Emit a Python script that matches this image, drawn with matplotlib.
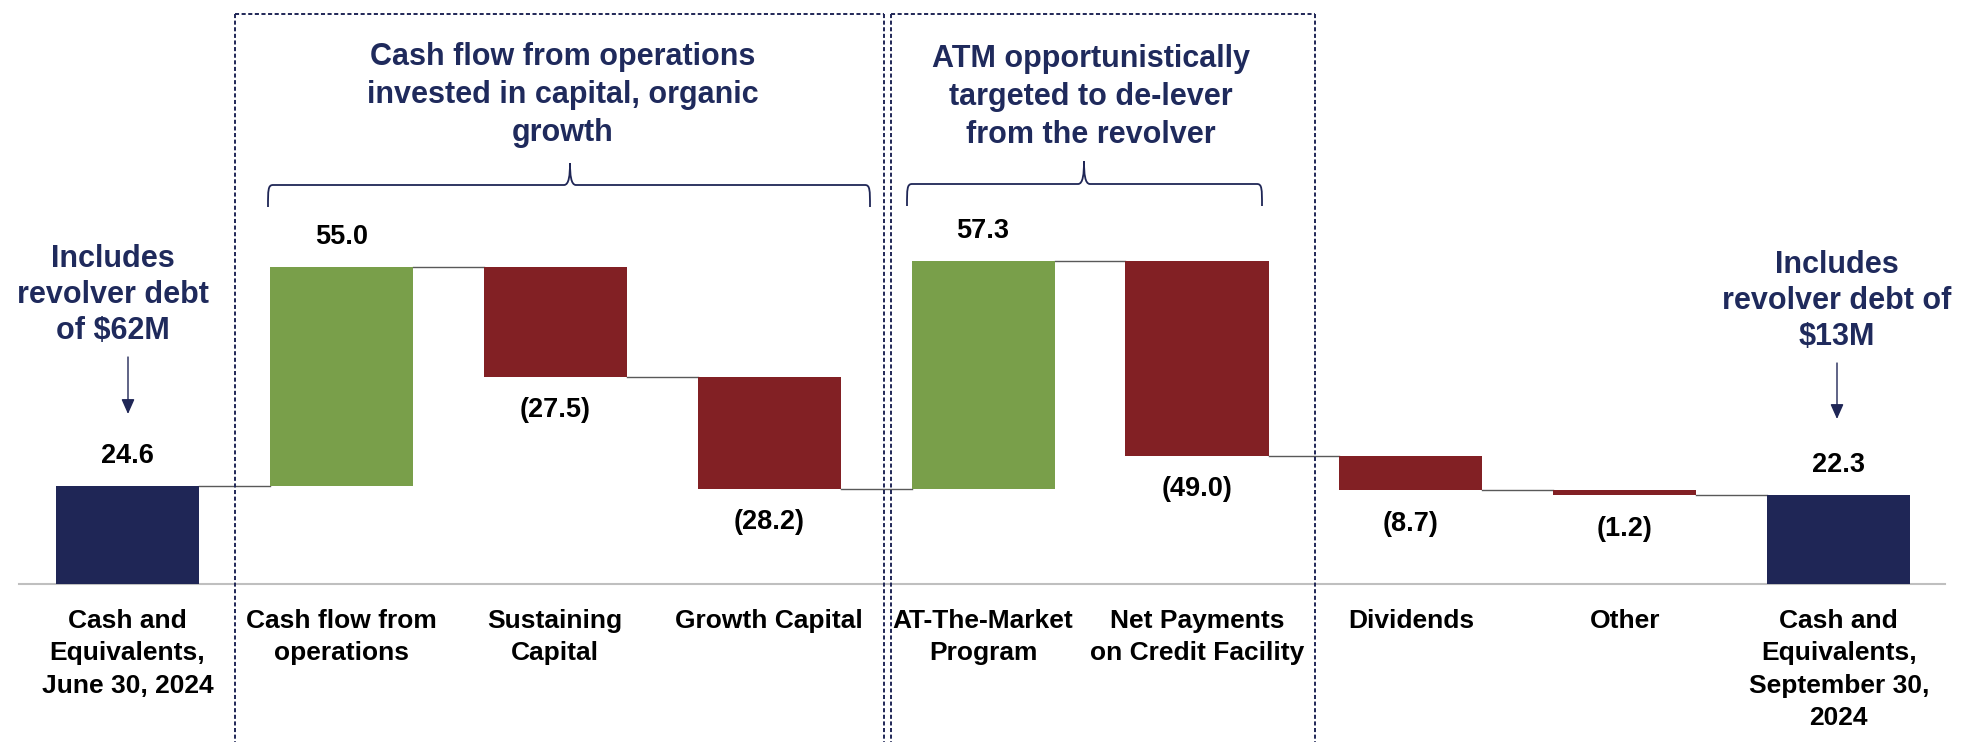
import matplotlib
matplotlib.use("Agg")
import matplotlib.pyplot as plt
from matplotlib.path import Path
from matplotlib.patches import PathPatch, FancyArrowPatch

# ---------------- data ----------------
categories = ["Cash and\nEquivalents,\nJune 30, 2024", "Cash flow from\noperations",
              "Sustaining\nCapital", "Growth Capital", "AT-The-Market\nProgram",
              "Net Payments\non Credit Facility", "Dividends", "Other",
              "Cash and\nEquivalents,\nSeptember 30,\n2024"]
values = [24.6, 55.0, -27.5, -28.2, 57.3, -49.0, -8.7, -1.2, 22.3]
kinds = ["total", "delta", "delta", "delta", "delta", "delta", "delta", "delta", "total"]
value_labels = ["24.6", "55.0", "(27.5)", "(28.2)", "57.3", "(49.0)", "(8.7)", "(1.2)", "22.3"]
group_titles = ["Cash flow from operations\ninvested in capital, organic\ngrowth",
                "ATM opportunistically\ntargeted to de-lever\nfrom the revolver"]
note_left = "Includes\nrevolver debt\nof $62M"
note_right = "Includes\nrevolver debt of\n$13M"

# ---------------- style ----------------
NAVY = "#1F2656"
TEXT_NAVY = "#1F2A5C"
GREEN = "#799F4A"
RED = "#822024"
FONT = ["Liberation Sans", "DejaVu Sans"]
plt.rcParams["font.family"] = FONT

W, H = 1969, 742
fig = plt.figure(figsize=(W / 100, H / 100), dpi=100)

# main axes: bottom at baseline pixel 584
ax = fig.add_axes([19 / W, (H - 584) / H, (1945 - 19) / W, 584 / H])
ax.set_xlim(-0.507, 8.497)
ax.set_ylim(0, 146.7)

bottoms, heights, colors = [], [], []
level = 0.0
for v, k in zip(values, kinds):
    if k == "total":
        bottoms.append(0.0)
        heights.append(v)
        colors.append(NAVY)
        level = v
    else:
        if v >= 0:
            bottoms.append(level)
            heights.append(v)
            colors.append(GREEN)
        else:
            bottoms.append(level + v)
            heights.append(-v)
            colors.append(RED)
        level += v

x = list(range(len(values)))
bw = 0.669
ax.bar(x, heights, bottom=bottoms, width=bw, color=colors, zorder=3)

# connectors
level = 0.0
for i, (v, k) in enumerate(zip(values, kinds)):
    level = v if k == "total" else level + v
    if i < len(values) - 1:
        ax.plot([i + bw / 2, i + 1 - bw / 2], [level, level], color="#595959", lw=1.0, zorder=2)

# value labels
for i, (v, k) in enumerate(zip(values, kinds)):
    if v >= 0:
        ax.annotate(value_labels[i], (i, bottoms[i] + heights[i]), xytext=(0, 21.6),
                    textcoords="offset points", ha="center", va="center",
                    fontsize=19.5, fontweight="bold", color="black")
    else:
        ax.annotate(value_labels[i], (i, bottoms[i]), xytext=(0, -24.1),
                    textcoords="offset points", ha="center", va="center",
                    fontsize=19.5, fontweight="bold", color="black")

ax.set_xticks(x)
ax.set_xticklabels(categories, fontsize=19, fontweight="bold", color="black", linespacing=1.44)
ax.tick_params(axis="x", length=0, pad=18)
ax.set_yticks([])
for s in ["top", "left", "right"]:
    ax.spines[s].set_visible(False)
ax.spines["bottom"].set_color("#BFBFBF")
ax.spines["bottom"].set_linewidth(1.5)

# overlay in pixel coordinates for annotations
ov = fig.add_axes([0, 0, 1, 1], facecolor="none")
ov.set_xlim(0, W)
ov.set_ylim(H, 0)
ov.axis("off")

dash = (0, (2.1, 1.3))
for (l, r) in [(235, 884), (891, 1315)]:
    ov.plot([l, r], [14, 14], color=NAVY, lw=1.4, linestyle=dash)
    ov.plot([l, l], [14, H + 5], color=NAVY, lw=1.4, linestyle=dash)
    ov.plot([r, r], [14, H + 5], color=NAVY, lw=1.4, linestyle=dash)


def brace(x0, x1, xc, yh, ye, yt):
    verts = [(x0, ye), (x0, yh + 5), (x0, yh), (x0 + 5, yh),
             (xc - 6, yh),
             (xc - 1, yh), (xc, yh - 10), (xc, yt),
             (xc, yh - 10), (xc + 1, yh), (xc + 6, yh),
             (x1 - 5, yh),
             (x1, yh), (x1, yh + 5), (x1, ye)]
    codes = [Path.MOVETO, Path.CURVE4, Path.CURVE4, Path.CURVE4,
             Path.LINETO,
             Path.CURVE4, Path.CURVE4, Path.CURVE4,
             Path.CURVE4, Path.CURVE4, Path.CURVE4,
             Path.LINETO,
             Path.CURVE4, Path.CURVE4, Path.CURVE4]
    ov.add_patch(PathPatch(Path(verts, codes), fill=False, edgecolor=NAVY, lw=1.3))


brace(268, 870, 570, 185, 207, 163)
brace(907, 1262, 1084, 184, 206, 161)

ov.text(563, 95, group_titles[0], ha="center", va="center", fontsize=22,
        fontweight="bold", color=TEXT_NAVY, linespacing=1.33)
ov.text(1091, 97, group_titles[1], ha="center", va="center", fontsize=22,
        fontweight="bold", color=TEXT_NAVY, linespacing=1.33)

ov.text(113, 295, note_left, ha="center", va="center", fontsize=22,
        fontweight="bold", color=TEXT_NAVY, linespacing=1.27)
ov.text(1837, 301, note_right, ha="center", va="center", fontsize=22,
        fontweight="bold", color=TEXT_NAVY, linespacing=1.27)

for (xa, y0, y1) in [(128, 357, 414), (1837, 363, 419)]:
    ov.add_patch(FancyArrowPatch((xa, y0), (xa, y1), arrowstyle="-|>,head_length=0.45,head_width=0.2",
                                 mutation_scale=20, color=NAVY, lw=1.0, shrinkA=0, shrinkB=0))

fig.savefig("out.png", dpi=100)
